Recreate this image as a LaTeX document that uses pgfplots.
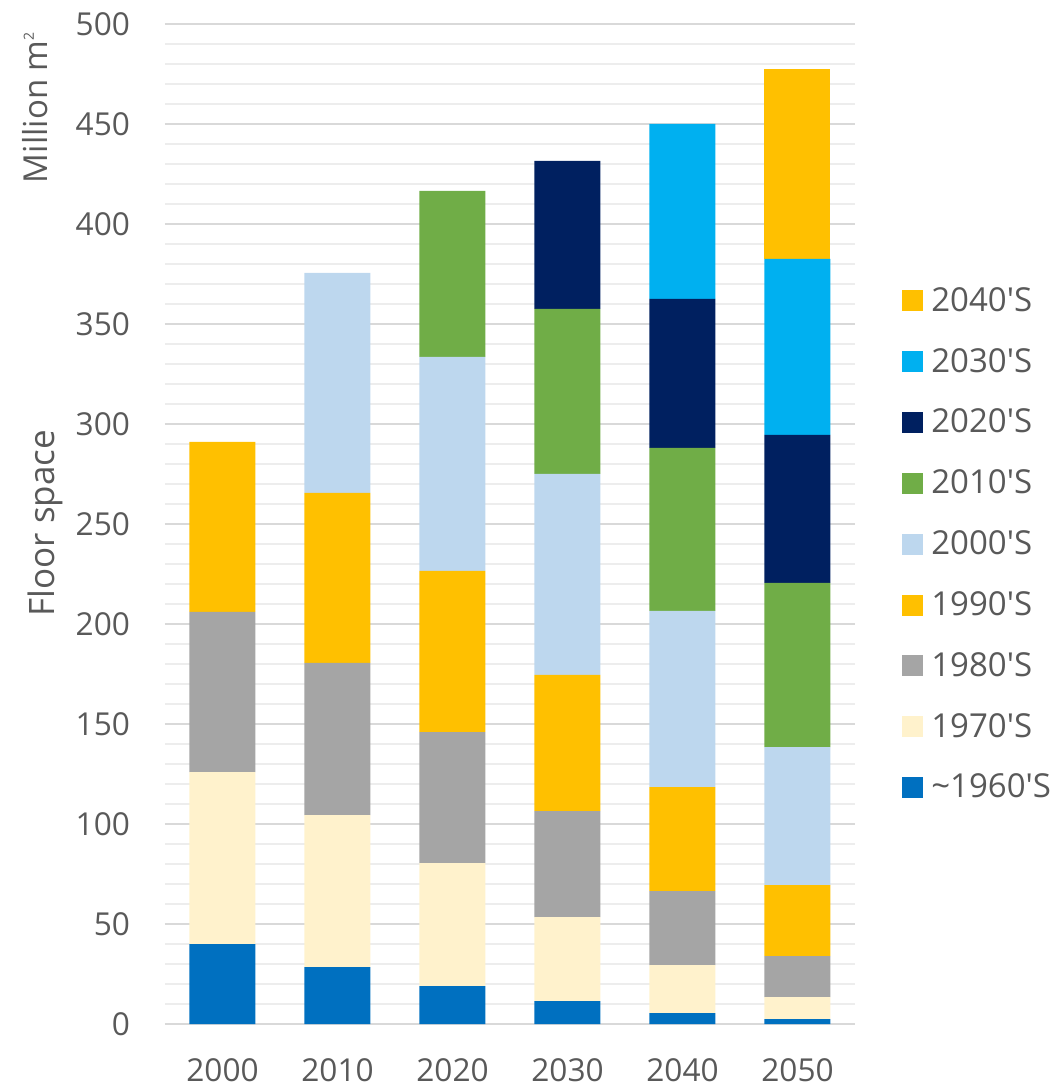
\documentclass[border=0pt]{standalone}
\usepackage{pgfplots}
\pgfplotsset{compat=1.18}
\usepackage{fontspec}
\setmainfont{Open Sans}
\definecolor{cA}{HTML}{0070C0}
\definecolor{cB}{HTML}{FFF2CC}
\definecolor{cC}{HTML}{A5A5A5}
\definecolor{cD}{HTML}{FFC000}
\definecolor{cE}{HTML}{BDD7EE}
\definecolor{cF}{HTML}{70AD47}
\definecolor{cG}{HTML}{002060}
\definecolor{cH}{HTML}{00B0F0}
\definecolor{cI}{HTML}{FFC000}
\definecolor{gridmajor}{HTML}{D9D9D9}
\definecolor{gridminor}{HTML}{EDEDED}
\definecolor{labelgray}{HTML}{595959}
\newcommand{\q}{\textquotesingle}
\begin{document}
\begin{tikzpicture}
\begin{axis}[
  at={(0,0)}, anchor=south west,
  width=345pt, height=500pt, scale only axis,
  ybar stacked, bar width=33pt,
  xmin=-0.5, xmax=5.5, ymin=0, ymax=500,
  xtick={0,...,5}, xticklabels={2000,2010,2020,2030,2040,2050},
  ytick={0,50,...,500}, minor ytick={0,10,...,500},
  ymajorgrids, yminorgrids,
  major grid style={draw=gridmajor, line width=0.9pt},
  minor grid style={draw=gridminor, line width=0.9pt},
  axis line style={draw=none},
  major tick length=0pt, minor tick length=0pt,
  tick style={draw=none},
  ticklabel style={font=\fontsize{15.8}{19}\selectfont, text=labelgray},
  /pgf/number format/assume math mode=true,
  yticklabel style={anchor=east, xshift=-14pt},
  xticklabel style={anchor=north, yshift=-14pt},
  every axis plot/.append style={draw=none},
  reverse legend,
  legend cell align=left,
  legend style={draw=none, fill=none, at={(1.068,0.745)}, anchor=north west,
    font=\fontsize{16.5}{20}\selectfont, text=labelgray, row sep=12.95pt,
    inner xsep=0pt,
    /tikz/every even column/.append style={column sep=2pt}},
  legend image code/.code={\fill[#1] (0pt,-5.25pt) rectangle (10.5pt,5.25pt);},
]
\addplot[fill=cA] coordinates {(0,40) (1,28.5) (2,19) (3,11.5) (4,5.5) (5,2.5)};
\addlegendentry{\hspace{2pt}\textasciitilde1960\q S}
\addplot[fill=cB] coordinates {(0,86) (1,76) (2,61.5) (3,42) (4,24) (5,11)};
\addlegendentry{\hspace{2pt}1970\q S}
\addplot[fill=cC] coordinates {(0,80) (1,76) (2,65.5) (3,53) (4,37) (5,20.5)};
\addlegendentry{\hspace{2pt}1980\q S}
\addplot[fill=cD] coordinates {(0,85) (1,85) (2,80.5) (3,68) (4,52) (5,35.5)};
\addlegendentry{\hspace{2pt}1990\q S}
\addplot[fill=cE] coordinates {(0,0) (1,110) (2,107) (3,100.5) (4,88) (5,69)};
\addlegendentry{\hspace{2pt}2000\q S}
\addplot[fill=cF] coordinates {(0,0) (1,0) (2,83) (3,82.5) (4,81.5) (5,82)};
\addlegendentry{\hspace{2pt}2010\q S}
\addplot[fill=cG] coordinates {(0,0) (1,0) (2,0) (3,74) (4,74.5) (5,74)};
\addlegendentry{\hspace{2pt}2020\q S}
\addplot[fill=cH] coordinates {(0,0) (1,0) (2,0) (3,0) (4,87.5) (5,88)};
\addlegendentry{\hspace{2pt}2030\q S}
\addplot[fill=cI] coordinates {(0,0) (1,0) (2,0) (3,0) (4,0) (5,95)};
\addlegendentry{\hspace{2pt}2040\q S}
\end{axis}
\node[rotate=90, anchor=base east, inner sep=0pt, font=\fontsize{16.5}{20}\selectfont, text=labelgray] at (-58.5pt, 496pt) {Million m{\fontsize{7}{8}\selectfont\raisebox{7pt}{2}}};
\node[rotate=90, anchor=base, inner sep=0pt, font=\fontsize{17.5}{20}\selectfont, text=labelgray] at (-55pt, 250.5pt) {Floor space};
\pgfresetboundingbox
\path (-82.5pt,-32.5pt) rectangle (447pt,512pt);
\end{tikzpicture}
\end{document}
